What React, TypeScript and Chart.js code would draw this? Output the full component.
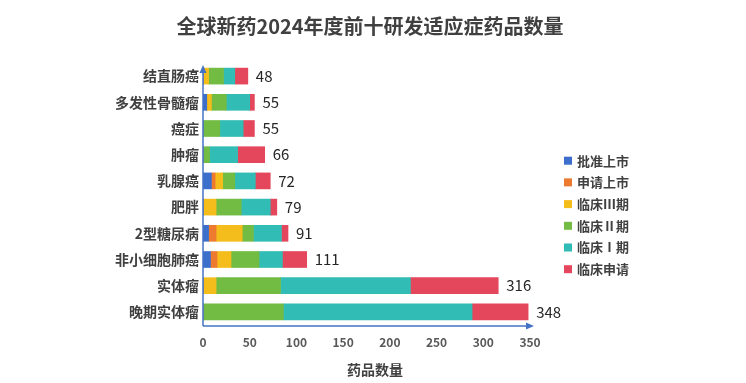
import React, { useEffect, useRef } from 'react';
import { Chart, registerables } from 'chart.js';

Chart.register(...registerables);

const FONT = '"Noto Sans CJK SC", "Noto Sans", sans-serif';

const chartTitle = '全球新药2024年度前十研发适应症药品数量';
const axisTitle = '药品数量';

const categories = ['结直肠癌', '多发性骨髓瘤', '癌症', '肿瘤', '乳腺癌', '肥胖', '2型糖尿病', '非小细胞肺癌', '实体瘤', '晚期实体瘤'];

const seriesNames = ['批准上市', '申请上市', '临床Ⅲ期', '临床Ⅱ期', '临床Ⅰ期', '临床申请'];
const seriesColors = ['#3B6FCB', '#EE7A30', '#F5BD1B', '#72BC44', '#31BDB5', '#E4475C'];

const approved = [0, 4, 0, 0, 9, 0, 6, 8, 0, 0];
const filed = [0, 0, 0, 0, 4, 0, 8, 7, 0, 0];
const phase3 = [6, 5, 0, 0, 8, 14, 28, 15, 14, 0];
const phase2 = [16, 16, 18, 7, 13, 27, 12, 30, 69, 86];
const phase1 = [12, 25, 25, 30, 22, 31, 30, 25, 139, 202];
const ind = [14, 5, 12, 29, 16, 7, 7, 26, 94, 60];

const totals = [48, 55, 55, 66, 72, 79, 91, 111, 316, 348];

const xTicks = [0, 50, 100, 150, 200, 250, 300, 350];

const seriesValues = [approved, filed, phase3, phase2, phase1, ind];

const overlayPlugin = {
  id: 'overlay',
  afterDatasetsDraw(chart: any) {
    const { ctx, chartArea } = chart;
    const xs = chart.scales.x;
    const ys = chart.scales.y;
    ctx.save();

    // axes with arrows
    const axisColor = '#4472C4';
    ctx.strokeStyle = axisColor;
    ctx.fillStyle = axisColor;
    ctx.lineWidth = 1.5;
    const x0 = xs.getPixelForValue(0);
    const yb = chartArea.bottom + 1;
    ctx.beginPath();
    ctx.moveTo(x0, yb);
    ctx.lineTo(x0, chartArea.top + 8);
    ctx.stroke();
    ctx.beginPath();
    ctx.moveTo(x0, chartArea.top + 2);
    ctx.lineTo(x0 - 3.5, chartArea.top + 10);
    ctx.lineTo(x0 + 3.5, chartArea.top + 10);
    ctx.closePath();
    ctx.fill();

    const xr = chartArea.right + 4;
    ctx.beginPath();
    ctx.moveTo(x0, yb);
    ctx.lineTo(xr - 6, yb);
    ctx.stroke();
    ctx.beginPath();
    ctx.moveTo(xr, yb);
    ctx.lineTo(xr - 8, yb - 3.5);
    ctx.lineTo(xr - 8, yb + 3.5);
    ctx.closePath();
    ctx.fill();

    // total labels
    ctx.font = `15px ${FONT}`;
    ctx.fillStyle = '#262626';
    ctx.textAlign = 'left';
    ctx.textBaseline = 'middle';
    totals.forEach((t, i) => {
      ctx.fillText(String(t), xs.getPixelForValue(t) + 8, ys.getPixelForValue(i));
    });

    // legend
    ctx.font = `bold 13px ${FONT}`;
    chart.data.datasets.forEach((ds: any, i: number) => {
      const cy = 160.7 + i * 21.7;
      ctx.fillStyle = ds.backgroundColor;
      ctx.fillRect(564, cy - 4, 8, 8);
      ctx.fillStyle = '#404040';
      ctx.fillText(ds.label, 577, cy);
    });

    // chart title
    ctx.font = `bold 20px ${FONT}`;
    ctx.fillStyle = '#404040';
    ctx.textAlign = 'center';
    ctx.fillText(chartTitle, 370, 26);

    // x axis title
    ctx.font = `bold 14px ${FONT}`;
    ctx.fillStyle = '#404040';
    ctx.fillText(axisTitle, 375, 370);

    ctx.restore();
  },
};

export default function App() {
  const ref = useRef<HTMLCanvasElement | null>(null);

  useEffect(() => {
    document.body.style.margin = '0';
    if (!ref.current) return;
    const chart = new Chart(ref.current, {
      type: 'bar',
      data: {
        labels: categories,
        datasets: seriesNames.map((name, i) => ({
          label: name,
          data: seriesValues[i],
          backgroundColor: seriesColors[i],
          borderWidth: 0,
          barThickness: 16,
        })),
      },
      options: {
        indexAxis: 'y',
        animation: false,
        responsive: false,
        maintainAspectRatio: false,
        layout: { padding: { left: 0, top: 63, right: 216, bottom: 0 } },
        plugins: {
          legend: { display: false },
          title: { display: false },
          tooltip: { enabled: false },
        },
        scales: {
          x: {
            stacked: true,
            min: 0,
            max: 350,
            afterFit: (s: any) => { s.height = 58; },
            afterBuildTicks: (s: any) => { s.ticks = xTicks.map((v) => ({ value: v })); },
            grid: { display: false, drawTicks: false },
            border: { display: false },
            ticks: {
              padding: 10,
              color: '#595959',
              font: { family: FONT, size: 12, weight: 'bold' },
            },
          },
          y: {
            stacked: true,
            afterFit: (s: any) => { s.width = 203; },
            grid: { display: false, drawTicks: false },
            border: { display: false },
            ticks: {
              padding: 4,
              color: '#404040',
              font: { family: FONT, size: 14, weight: 'bold' },
            },
          },
        },
      },
      plugins: [overlayPlugin],
    });
    return () => chart.destroy();
  }, []);

  return (
    <div style={{ width: 746, height: 383, position: 'relative', background: '#fff' }}>
      <canvas ref={ref} width={746} height={383} style={{ width: 746, height: 383, display: 'block' }} />
    </div>
  );
}
